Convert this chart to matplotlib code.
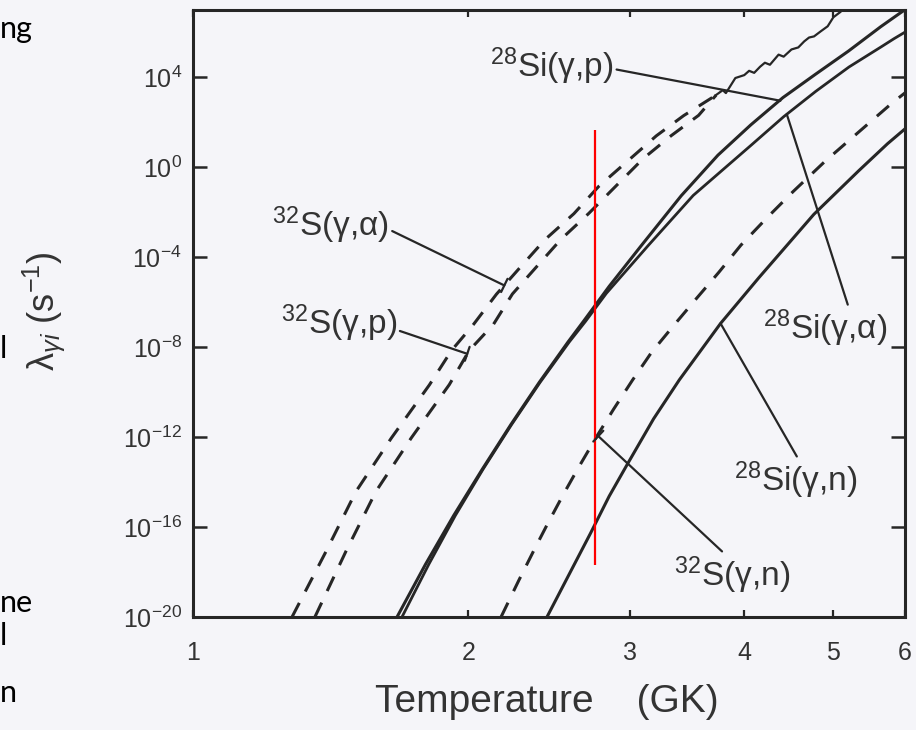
import numpy as np
import matplotlib
matplotlib.use("Agg")
import matplotlib.pyplot as plt

plt.rcParams['font.family'] = ['Liberation Sans', 'DejaVu Sans']
plt.rcParams['mathtext.fontset'] = 'custom'
plt.rcParams['mathtext.rm'] = 'Liberation Sans'
plt.rcParams['mathtext.it'] = 'Liberation Sans:italic'
plt.rcParams['mathtext.bf'] = 'Liberation Sans:bold'

# temperature (GK) and log10(lambda / s^-1)
t_s_alpha = [1.283, 1.397, 1.507, 1.647, 1.813, 1.916, 2.025, 2.146, 2.280, 2.424,
             2.608, 2.777, 3.003, 3.209, 3.438, 3.73]
l_s_alpha = [-20.0, -17.10, -14.42, -12.05, -9.68, -8.16, -7.00, -5.65, -4.44, -3.23,
             -2.07, -0.85, 0.36, 1.39, 2.29, 3.20]

t_s_p = [1.359, 1.469, 1.585, 1.732, 1.906, 2.004, 2.130, 2.234, 2.374, 2.523,
         2.707, 2.899, 3.103, 3.332, 3.569, 3.73]
l_s_p = [-20.0, -17.09, -14.41, -12.04, -9.67, -8.15, -6.99, -5.64, -4.43, -3.22,
         -2.06, -0.84, 0.37, 1.40, 2.30, 3.20]

# noisy high-temperature tail where the two 32S curves meet
t_s_tail = [3.728, 3.793, 3.823, 3.915, 4.004, 4.053, 4.105, 4.166, 4.217, 4.271,
            4.365, 4.421, 4.509, 4.587, 4.656, 4.713, 4.772, 4.855, 4.939, 5.010, 5.097]
l_s_tail = [3.20, 3.42, 3.29, 3.96, 4.09, 4.28, 4.19, 4.46, 4.64, 4.55,
            5.00, 4.91, 5.23, 5.32, 5.59, 5.76, 5.81, 6.04, 6.26, 6.66, 6.89]

t_si_p = [1.671, 1.795, 1.927, 2.071, 2.225, 2.391, 2.570, 2.671, 2.850,
          3.087, 3.417, 3.747, 4.071, 4.413, 4.787, 5.205, 5.644, 5.828, 6.0]
l_si_p = [-20.0, -17.66, -15.49, -13.43, -11.45, -9.56, -7.77, -6.86, -5.30,
          -3.51, -1.27, 0.53, 1.88, 3.09, 4.12, 5.16, 6.24, 6.64, 7.0]

t_si_alpha = [1.692, 1.810, 1.935, 2.075, 2.229, 2.396, 2.578, 2.685, 2.830,
              3.142, 3.521, 4.078, 4.421, 4.794, 5.211, 5.653, 5.837, 6.0]
l_si_alpha = [-20.0, -17.66, -15.49, -13.43, -11.45, -9.56, -7.77, -6.86, -5.61,
              -3.50, -1.26, 0.99, 2.24, 3.37, 4.45, 5.35, 5.71, 6.0]

t_si_n = [2.437, 2.593, 2.719, 2.850, 2.988, 3.187, 3.400, 3.772, 4.155, 4.770,
          5.338, 5.742, 6.0]
l_si_n = [-20.0, -17.89, -16.28, -14.63, -13.16, -11.19, -9.46, -6.95, -4.91, -2.10,
          -0.17, 1.04, 1.70]

t_s_n = [2.171, 2.271, 2.364, 2.437, 2.538, 2.636, 2.766, 2.881, 3.021, 3.170,
         3.351, 3.550, 3.755, 3.970, 4.240, 4.527, 4.907, 5.797, 6.0]
l_s_n = [-20.0, -18.36, -16.95, -15.91, -14.57, -13.38, -11.93, -10.77, -9.48, -8.24,
         -7.05, -5.84, -4.68, -3.47, -2.25, -1.09, 0.26, 2.82, 3.30]

# axis ticks
x_ticks = [1, 2, 3, 4, 5, 6]
y_exps = [4, 0, -4, -8, -12, -16, -20]

ink = '#262626'
page = '#f5f5f9'

fig = plt.figure(figsize=(9.16, 7.3), dpi=100, facecolor=page)
ax = fig.add_axes([0.2107, 0.1548, 0.7773, 0.832])
ax.set_facecolor(page)

dash = (0, (5.2, 4.2))
ax.plot(t_s_alpha, np.power(10.0, l_s_alpha), color=ink, lw=2.2, linestyle=dash)
ax.plot(t_s_p, np.power(10.0, l_s_p), color=ink, lw=2.2, linestyle=dash)
ax.plot(t_s_tail, np.power(10.0, l_s_tail), color=ink, lw=1.6)
ax.plot(t_si_p, np.power(10.0, l_si_p), color=ink, lw=2.2)
ax.plot(t_si_alpha, np.power(10.0, l_si_alpha), color=ink, lw=2.0)
ax.plot(t_si_n, np.power(10.0, l_si_n), color=ink, lw=2.2)
ax.plot(t_s_n, np.power(10.0, l_s_n), color=ink, lw=2.2, linestyle=dash)

ax.set_xscale('log')
ax.set_yscale('log')
ax.set_xlim(1, 6)
ax.set_ylim(1e-20, 1e7)

ax.set_xticks(x_ticks)
ax.set_xticklabels([str(t) for t in x_ticks])
ax.set_yticks([10.0 ** e for e in y_exps])
ax.set_yticklabels([r'$\mathdefault{10^{%d}}$' % e for e in y_exps])
ax.minorticks_off()

ax.tick_params(direction='in', top=True, right=True, colors=ink, labelcolor='#333333')
ax.tick_params(axis='x', length=5, width=1.6, pad=17, labelsize=18)
ax.tick_params(axis='y', length=10, width=1.8, pad=8, labelsize=18)
for s in ax.spines.values():
    s.set_linewidth(2.2)
    s.set_color(ink)

# curve labels with leader lines
bar = '-[, widthB=0.22, lengthB=0'
labels = [
    (r'$^{28}$Si(γ,p)', (4.385, 2.95), (2.468, 4.49), (1.0, 0.43), '-'),
    (r'$^{28}$Si(γ,α)', (4.456, 2.35), (4.906, -7.16), (0.69, 1.0), '-'),
    (r'$^{28}$Si(γ,n)', (3.772, -6.95), (4.560, -13.91), (0.52, 1.0), '-'),
    (r'$^{32}$S(γ,n)', (2.773, -11.96), (3.882, -18.13), (0.44, 1.0), bar),
    (r'$^{32}$S(γ,α)', (2.189, -5.26), (1.415, -2.58), (1.0, 0.39), bar),
    (r'$^{32}$S(γ,p)', (1.994, -8.30), (1.444, -6.93), (1.0, 0.33), bar),
]
for txt, end, pos, rel, style in labels:
    ax.annotate(txt, xy=(end[0], 10 ** end[1]), xytext=(pos[0], 10 ** pos[1]),
                ha='center', va='center', fontsize=24, color='#333333',
                arrowprops=dict(arrowstyle=style, color=ink, lw=1.6,
                                shrinkA=0, shrinkB=0, relpos=rel))

# red marker line drawn over the scan
red_t = 2.75
ax.vlines(red_t, 10 ** -17.69, 10 ** 1.64, color='#ff0000', lw=1.6)

# axis titles
fig.text(547 / 916, 1 - 702 / 730, 'Temperature    (GK)', fontsize=28,
         ha='center', va='center', color='#333333')
fig.text(44 / 916, 1 - 311 / 730, r'λ$_{\gamma i}$ (s$^{-1}$)', fontsize=26,
         rotation=90, ha='center', va='center', color='#333333')

# clipped slide text at the left edge
for s, yy in [('ng', 38), ('l', 358), ('ne', 612), ('l', 645), ('n', 702)]:
    fig.text(0.0, 1 - yy / 730, s, fontsize=22, family='Lato', color='black',
             ha='left', va='baseline')

fig.savefig('out.png', dpi=100, facecolor=fig.get_facecolor())
